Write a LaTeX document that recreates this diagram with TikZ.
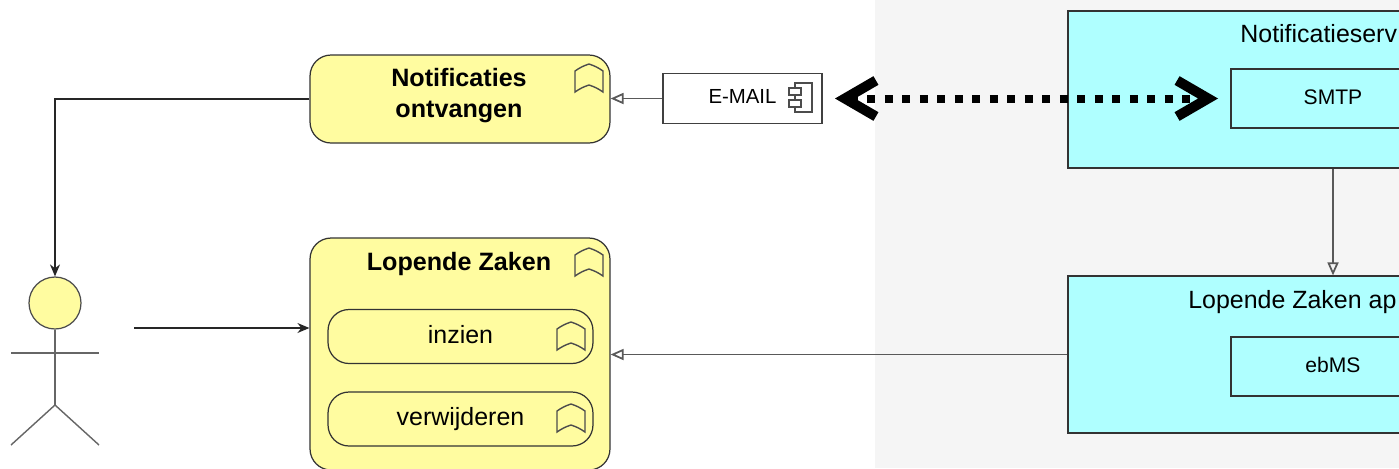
\documentclass[tikz,border=0pt]{standalone}
\usepackage{fontspec}
\setmainfont{Liberation Sans}
\usetikzlibrary{arrows.meta}

\begin{document}
\begin{tikzpicture}[
    x=0.02cm,
    y=-0.02cm,
    process/.style={
        rectangle,
        draw=black!80,
        line width=0.7pt,
        fill=procyellow,
        rounded corners=0.42cm,
        inner sep=0pt
    },
    processtitle/.style={
        inner sep=0pt,
        align=center,
        font=\fontsize{14.3}{17.6}\selectfont\bfseries
    },
    subprocess/.style={
        process,
        minimum width=5.3cm,
        minimum height=1.08cm,
        text height=10pt,
        text depth=2.5pt,
        font=\fontsize{14.2}{17}\selectfont
    },
    appbox/.style={
        rectangle,
        draw=black!80,
        line width=0.7pt,
        fill=appcyan,
        inner sep=0pt
    },
    service/.style={
        appbox,
        minimum width=4.08cm,
        minimum height=1.18cm,
        text depth=2pt,
        font=\fontsize{12}{14}\selectfont
    },
    apptitle/.style={
        anchor=west,
        inner sep=0pt,
        font=\fontsize{14.2}{17}\selectfont
    },
    realize/.style={
        -{Triangle[open,length=0.26cm,width=0.22cm]},
        line width=1pt,
        color=black!65
    },
    trigger/.style={
        -{Stealth[length=0.24cm,width=0.2cm]},
        line width=0.7pt,
        color=black!85
    },
    flow/.style={
        {Straight Barb[length=0.62cm,width=0.72cm,line width=0.2cm]}-{Straight Barb[length=0.62cm,width=0.72cm,line width=0.2cm]},
        line width=0.16cm,
        dash pattern=on 0.16cm off 0.19cm,
        color=black
    },
    icon/.style={
        line width=0.8pt,
        color=black!70
    },
    actorline/.style={
        line width=0.8pt,
        color=black!60
    }
]
\definecolor{procyellow}{HTML}{FFFCA0}
\definecolor{appcyan}{HTML}{AFFFFF}

\newcommand{\bookicon}[2]{%
    \draw[icon] (#1,#2+7) to[bend left=8] (#1+14,#2) to[bend left=8] (#1+28,#2+7)
        -- (#1+28,#2+28) to[bend right=8] (#1+14,#2+21) to[bend right=8] (#1,#2+28) -- cycle;
}

\useasboundingbox (0,0) rectangle (1399,468);
\clip (0,0) rectangle (1399,468);

% Background
\fill[black!4] (875,0) rectangle (1399,468);

% Processes
\node[process, minimum width=6cm, minimum height=1.76cm] (notif) at (460,99) {};
\node[processtitle] (notiftitle) at (459,95.5) {Notificaties\\ontvangen};
\bookicon{575}{64}
\node[process, minimum width=6cm, minimum height=4.64cm] (zaken) at (460,354) {};
\node[processtitle] (zakentitle) at (459,264) {Lopende Zaken};
\bookicon{575}{248}
\node[subprocess] (inzien) at (460.5,336.5) {inzien};
\bookicon{557}{322}
\node[subprocess] (verwijderen) at (460.5,419) {verwijderen};
\bookicon{557}{404}

% E-mail interface
\node[rectangle, draw=black!75, line width=0.7pt, fill=white, minimum width=3.18cm, minimum height=1cm,
    inner sep=0pt, text depth=2pt, font=\fontsize{11.6}{14}\selectfont] (email) at (742.5,98.5) {E-MAIL};
\draw[icon] (795,83) rectangle (812,112);
\draw[icon, fill=white] (789,88) rectangle (801,95);
\draw[icon, fill=white] (789,100) rectangle (801,107);

% Applications
\node[appbox, minimum width=10.6cm, minimum height=3.14cm] (notifsrv) at (1333,89.5) {};
\node[apptitle] (notifsrvtitle) at (1240,34) {Notificatieserv};
\node[service] (smtp) at (1333,98.5) {SMTP};
\node[appbox, minimum width=10.6cm, minimum height=3.14cm] (zakenapp) at (1333,354.5) {};
\node[apptitle] (zakenapptitle) at (1188,302) {Lopende Zaken ap};
\node[service] (ebms) at (1333,366.5) {ebMS};

% Actor
\node[circle, draw=black!70, line width=0.7pt, fill=procyellow, minimum size=1.04cm, inner sep=0pt] (actor) at (55,303) {};
\coordinate (hip) at (55,405);
\coordinate (armleft) at (11,353);
\coordinate (armright) at (99,353);
\coordinate (footleft) at (11,445);
\coordinate (footright) at (99,445);
\coordinate (actorout) at (134,328);
\draw[actorline] (actor.south) -- (hip);
\draw[actorline] (armleft) -- (armright);
\draw[actorline] (footleft) -- (hip) -- (footright);

% Arrows
\draw[trigger] (notif.west) -| (actor.north);
\draw[trigger] (actorout) -- (actorout -| zaken.west);
\draw[realize] (email.west) -- (email.west -| notif.east);
\draw[realize] (notifsrv.south) -- (zakenapp.north);
\draw[realize] (zakenapp.west) -- (zakenapp.west -| zaken.east);

% Dotted exchange arrow
\coordinate (flowleft) at (835,98.5);
\coordinate (flowright) at (1218,98.5);
\draw[flow] (flowleft) -- (flowright);

\end{tikzpicture}
\end{document}
